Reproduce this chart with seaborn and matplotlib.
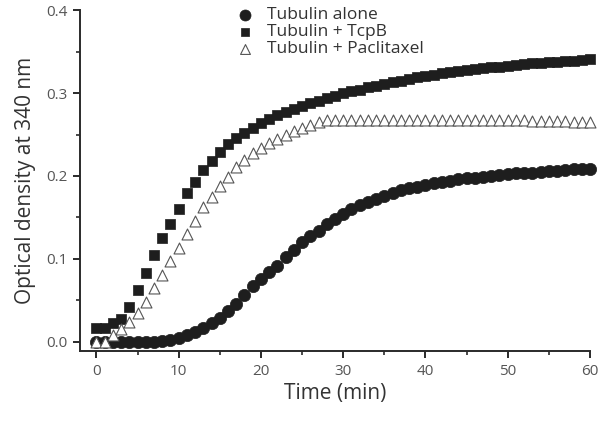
import numpy as np
import pandas as pd
import matplotlib
matplotlib.use('Agg')
import matplotlib.pyplot as plt
from matplotlib.ticker import MultipleLocator
import seaborn as sns

# Waktu pengukuran (menit) dan nilai OD 340 nm
time_min = list(range(0, 61))

tubulin_alone = [0.0, 0.0, 0.0, 0.0, 0.0, 0.0, 0.0, 0.0, 0.001, 0.002,
                 0.005, 0.008, 0.012, 0.017, 0.023, 0.029, 0.037, 0.046, 0.056, 0.067,
                 0.076, 0.084, 0.092, 0.102, 0.111, 0.120, 0.127, 0.134, 0.142, 0.148,
                 0.154, 0.160, 0.165, 0.169, 0.172, 0.176, 0.180, 0.183, 0.185, 0.187,
                 0.189, 0.191, 0.193, 0.194, 0.196, 0.197, 0.198, 0.199, 0.200, 0.201,
                 0.202, 0.203, 0.203, 0.204, 0.205, 0.206, 0.206, 0.207, 0.208, 0.208,
                 0.209]

tubulin_tcpb = [0.017, 0.017, 0.023, 0.028, 0.042, 0.063, 0.083, 0.105, 0.125, 0.142,
                0.160, 0.180, 0.193, 0.207, 0.218, 0.229, 0.238, 0.246, 0.252, 0.258,
                0.264, 0.269, 0.273, 0.277, 0.281, 0.285, 0.288, 0.291, 0.294, 0.297,
                0.300, 0.302, 0.304, 0.307, 0.309, 0.311, 0.313, 0.315, 0.317, 0.319,
                0.321, 0.322, 0.324, 0.325, 0.327, 0.328, 0.329, 0.330, 0.331, 0.332,
                0.333, 0.334, 0.335, 0.336, 0.336, 0.337, 0.338, 0.339, 0.339, 0.340,
                0.341]

tubulin_paclitaxel = [0.0, 0.0, 0.008, 0.015, 0.024, 0.035, 0.048, 0.065, 0.081, 0.098,
                      0.113, 0.130, 0.146, 0.163, 0.175, 0.188, 0.199, 0.211, 0.219, 0.228,
                      0.234, 0.240, 0.245, 0.249, 0.254, 0.258, 0.262, 0.265, 0.267, 0.268,
                      0.268, 0.268, 0.268, 0.268, 0.268, 0.268, 0.268, 0.268, 0.268, 0.268,
                      0.268, 0.268, 0.268, 0.268, 0.268, 0.268, 0.267, 0.267, 0.267, 0.267,
                      0.267, 0.267, 0.267, 0.266, 0.266, 0.266, 0.266, 0.266, 0.265, 0.265,
                      0.265]

labels = ['Tubulin alone', 'Tubulin + TcpB', 'Tubulin + Paclitaxel']

df = pd.DataFrame({'time': time_min, 'alone': tubulin_alone,
                   'tcpb': tubulin_tcpb, 'paclitaxel': tubulin_paclitaxel})

sns.set_style('ticks')
plt.rcParams['font.family'] = ['Open Sans', 'DejaVu Sans']
text_col = '#333333'

fig = plt.figure(figsize=(6, 4.25), dpi=100)
ax = fig.add_axes([0.1333, 0.174, 0.85, 0.802])

sns.scatterplot(data=df, x='time', y='alone', ax=ax, marker='o', s=78,
                color='#1e1e1e', edgecolor='#1e1e1e', linewidth=0.5,
                label=labels[0], clip_on=False, zorder=3)
sns.scatterplot(data=df, x='time', y='tcpb', ax=ax, marker='s', s=50,
                color='#1e1e1e', edgecolor='#1e1e1e', linewidth=0.5,
                label=labels[1], clip_on=False, zorder=4)
sns.scatterplot(data=df, x='time', y='paclitaxel', ax=ax, marker='^', s=62,
                color='white', edgecolor='#555555', linewidth=0.8,
                label=labels[2], clip_on=False, zorder=5)

ax.set_xlim(-2, 60)
ax.set_ylim(-0.0112, 0.4)
ax.xaxis.set_major_locator(MultipleLocator(10))
ax.xaxis.set_minor_locator(MultipleLocator(5))
ax.yaxis.set_major_locator(MultipleLocator(0.1))
ax.yaxis.set_minor_locator(MultipleLocator(0.05))
ax.yaxis.set_major_formatter(matplotlib.ticker.FormatStrFormatter('%.1f'))

for sp in ['top', 'right']:
    ax.spines[sp].set_visible(False)
for sp in ['left', 'bottom']:
    ax.spines[sp].set_linewidth(1.4)
    ax.spines[sp].set_color('#2a2a2a')

ax.tick_params(axis='both', which='major', length=5, width=1.4, color='#2a2a2a',
               labelsize=11, labelcolor='#555555', pad=4)
ax.tick_params(axis='both', which='minor', length=3, width=1.2, color='#2a2a2a')

ax.set_xlabel('Time (min)', fontsize=15, color=text_col, labelpad=3, fontweight='medium')
ax.set_ylabel('Optical density at 340 nm', fontsize=15, color=text_col, labelpad=7,
              fontweight='medium')

leg = ax.legend(loc='upper left', bbox_to_anchor=(0.275, 1.03), frameon=False,
                fontsize=12.5, handletextpad=0.3, labelspacing=0.05,
                borderaxespad=0, markerscale=0.9)
for t in leg.get_texts():
    t.set_color(text_col)
    t.set_fontweight('medium')

plt.savefig('out.png', dpi=100)
